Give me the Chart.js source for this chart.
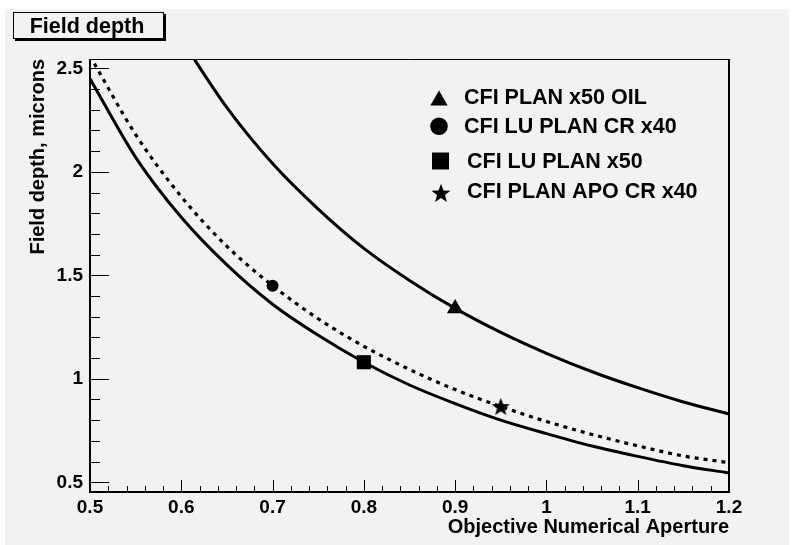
<!DOCTYPE html>
<html>
<head>
<meta charset="utf-8">
<script src="https://cdn.jsdelivr.net/npm/chart.js@4.4.1/dist/chart.umd.min.js"></script>
<style>
  html, body { margin: 0; padding: 0; background: #ffffff; }
  #wrap { position: relative; width: 793px; height: 545px; }
</style>
</head>
<body>
<div id="wrap"><canvas id="depthChart" width="793" height="545"></canvas></div>
<script>
// Objective numerical aperture samples (x) and field depth
const apertures   = [0.5, 0.55, 0.6, 0.65, 0.7, 0.75, 0.8, 0.85, 0.9, 0.95, 1.0, 1.05, 1.1, 1.15, 1.2];
const depthLower  = [2.45, 2.07, 1.78, 1.55, 1.36, 1.21, 1.08, 0.97, 0.88, 0.80, 0.735, 0.675, 0.625, 0.58, 0.545];
const depthDotted = [2.56, 2.18, 1.88, 1.64, 1.45, 1.29, 1.157, 1.045, 0.948, 0.866, 0.794, 0.731, 0.676, 0.627, 0.595];
const depthUpper  = [null, null, 2.64, 2.31, 2.04, 1.82, 1.63, 1.475, 1.34, 1.224, 1.123, 1.034, 0.957, 0.888, 0.83];

// Measured objectives
const objectiveNames = ['CFI PLAN x50 OIL', 'CFI LU PLAN CR x40', 'CFI LU PLAN x50', 'CFI PLAN APO CR x40'];
const objectiveNA    = [0.9, 0.7, 0.8, 0.95];
const objectiveDepth = [1.34, 1.45, 1.08, 0.866];

// Axis ticks
const xTicks = [0.5, 0.6, 0.7, 0.8, 0.9, 1.0, 1.1, 1.2];
const xTickLabels = ['0.5', '0.6', '0.7', '0.8', '0.9', '1', '1.1', '1.2'];
const yTicks = [0.5, 1.0, 1.5, 2.0, 2.5];
const yTickLabels = ['0.5', '1', '1.5', '2', '2.5'];

const FONT = "'Liberation Sans', Arial, Helvetica, sans-serif";
const BG = '#f2f2f2';

// filled five-point star used as a point style
function makeStar(r) {
    const size = Math.ceil(2 * r + 2);
    const c = document.createElement('canvas');
    c.width = size; c.height = size;
    const g = c.getContext('2d');
    const cx = size / 2, cy = size / 2 + r * 0.08;
    g.beginPath();
    for (let i = 0; i < 10; i++) {
        const rad = (i % 2 === 0) ? r : r * 0.42;
        const a = -Math.PI / 2 + i * Math.PI / 5;
        const px = cx + rad * Math.cos(a), py = cy + rad * Math.sin(a);
        if (i === 0) g.moveTo(px, py); else g.lineTo(px, py);
    }
    g.closePath();
    g.fillStyle = '#000';
    g.fill();
    return c;
}

const markerStyles = ['triangle', 'circle', 'rect', makeStar(9.5)];
const markerRadius = [9.5, 6, 10, 9.5];
const legendStyles = ['triangle', 'circle', 'rect', makeStar(10)];
const legendRadius = [10, 8.8, 12, 10];

const toPoints = (ys) => apertures.map((x, i) => ({x: x, y: ys[i]}));

const datasets = [
    { data: toPoints(depthLower), borderColor: '#000', borderWidth: 3, pointRadius: 0, cubicInterpolationMode: 'monotone', fill: false },
    { data: toPoints(depthDotted), borderColor: '#000', borderWidth: 3.2, borderDash: [4, 5], pointRadius: 0, cubicInterpolationMode: 'monotone', fill: false },
    { data: toPoints(depthUpper), borderColor: '#000', borderWidth: 3, pointRadius: 0, cubicInterpolationMode: 'monotone', fill: false }
];
objectiveNames.forEach((name, i) => {
    datasets.push({
        label: name,
        data: [{x: objectiveNA[i], y: objectiveDepth[i]}],
        showLine: false,
        pointStyle: markerStyles[i],
        pointRadius: markerRadius[i],
        pointBackgroundColor: '#000',
        pointBorderColor: '#000',
        pointBorderWidth: 0
    });
});

// background, frame, inward ticks, title box and legend
const decorations = {
    id: 'decorations',
    beforeDraw(chart) {
        const ctx = chart.ctx;
        ctx.save();
        ctx.fillStyle = BG;
        ctx.fillRect(5, 9, 784, 536);
        ctx.restore();
    },
    afterDraw(chart) {
        const ctx = chart.ctx;
        const a = chart.chartArea;
        const xs = chart.scales.x, ys = chart.scales.y;
        ctx.save();
        ctx.strokeStyle = '#000';
        // frame
        ctx.lineWidth = 1;
        ctx.beginPath();
        ctx.moveTo(a.left, a.top + 0.5); ctx.lineTo(a.right, a.top + 0.5);
        ctx.stroke();
        ctx.lineWidth = 2;
        ctx.beginPath();
        ctx.moveTo(a.left, a.top); ctx.lineTo(a.left, a.bottom);
        ctx.lineTo(a.right, a.bottom); ctx.lineTo(a.right, a.top);
        ctx.stroke();
        // x ticks (inside)
        ctx.lineWidth = 1;
        ctx.beginPath();
        for (let i = 0; i < xTicks.length; i++) {
            const px = Math.round(xs.getPixelForValue(xTicks[i])) + 0.5;
            ctx.moveTo(px, a.bottom); ctx.lineTo(px, a.bottom - 12);
            if (i < xTicks.length - 1) {
                const step = (xTicks[i + 1] - xTicks[i]) / 5;
                for (let k = 1; k < 5; k++) {
                    const mx = Math.round(xs.getPixelForValue(xTicks[i] + k * step)) + 0.5;
                    ctx.moveTo(mx, a.bottom); ctx.lineTo(mx, a.bottom - 6);
                }
            }
        }
        // y ticks (inside)
        for (let i = 0; i < yTicks.length; i++) {
            const py = Math.round(ys.getPixelForValue(yTicks[i])) + 0.5;
            ctx.moveTo(a.left, py); ctx.lineTo(a.left + 19, py);
            if (i < yTicks.length - 1) {
                const step = (yTicks[i + 1] - yTicks[i]) / 5;
                for (let k = 1; k < 5; k++) {
                    const my = Math.round(ys.getPixelForValue(yTicks[i] + k * step)) + 0.5;
                    ctx.moveTo(a.left, my); ctx.lineTo(a.left + 10, my);
                }
            }
        }
        ctx.stroke();

        // title box with shadow
        ctx.fillStyle = '#000';
        ctx.fillRect(15, 14, 151, 27);
        ctx.fillStyle = BG;
        ctx.fillRect(13, 12, 150, 26);
        ctx.lineWidth = 1;
        ctx.strokeRect(13.5, 12.5, 150, 26);
        ctx.fillStyle = '#000';
        ctx.font = 'bold 21.5px ' + FONT;
        ctx.textAlign = 'center';
        ctx.textBaseline = 'alphabetic';
        ctx.fillText('Field depth', 87, 32.5);

        // legend
        const rowsY = [104.3, 133.3, 167.7, 198.3];
        const markY = [100.5, 126.3, 161, 193];
        const markX = [439, 439, 440.5, 441];
        const textX = [464, 464, 467, 467];
        ctx.textAlign = 'left';
        for (let i = 0; i < objectiveNames.length; i++) {
            ctx.fillStyle = '#000';
            Chart.helpers.drawPoint(ctx, {
                pointStyle: legendStyles[i], radius: legendRadius[i], rotation: 0, borderWidth: 0
            }, markX[i], markY[i]);
            ctx.fillStyle = '#000';
            ctx.font = 'bold 21.5px ' + FONT;
            ctx.fillText(objectiveNames[i], textX[i], rowsY[i]);
        }
        ctx.restore();
    }
};

new Chart(document.getElementById('depthChart'), {
    type: 'line',
    data: { datasets: datasets },
    plugins: [decorations],
    options: {
        responsive: false,
        animation: false,
        devicePixelRatio: 1,
        layout: { padding: { left: 5, top: 59, right: 64, bottom: 0 } },
        plugins: {
            legend: { display: false },
            title: { display: false },
            tooltip: { enabled: false }
        },
        scales: {
            x: {
                type: 'linear',
                min: 0.5,
                max: 1.2,
                grid: { display: false, drawTicks: false },
                border: { display: false },
                afterFit: (scale) => { scale.height = 53; },
                afterBuildTicks: (scale) => { scale.ticks = xTicks.map(v => ({value: v})); },
                ticks: {
                    color: '#000',
                    padding: 4,
                    maxRotation: 0,
                    autoSkip: false,
                    font: { family: FONT, size: 19, weight: 'bold' },
                    callback: (value, index) => xTickLabels[index]
                },
                title: {
                    display: true,
                    text: 'Objective Numerical Aperture',
                    align: 'end',
                    color: '#000',
                    padding: { top: 0, bottom: 6 },
                    font: { family: FONT, size: 20, weight: 'bold' }
                }
            },
            y: {
                type: 'linear',
                min: 0.453,
                max: 2.545,
                grid: { display: false, drawTicks: false },
                border: { display: false },
                afterFit: (scale) => { scale.width = 85; },
                afterBuildTicks: (scale) => { scale.ticks = yTicks.map(v => ({value: v})); },
                ticks: {
                    color: '#000',
                    padding: 7,
                    autoSkip: false,
                    font: { family: FONT, size: 19, weight: 'bold' },
                    callback: (value, index) => yTickLabels[index]
                },
                title: {
                    display: true,
                    text: 'Field depth, microns',
                    align: 'end',
                    color: '#000',
                    padding: { top: 21, bottom: 0 },
                    font: { family: FONT, size: 20, weight: 'bold' }
                }
            }
        }
    }
});
</script>
</body>
</html>
